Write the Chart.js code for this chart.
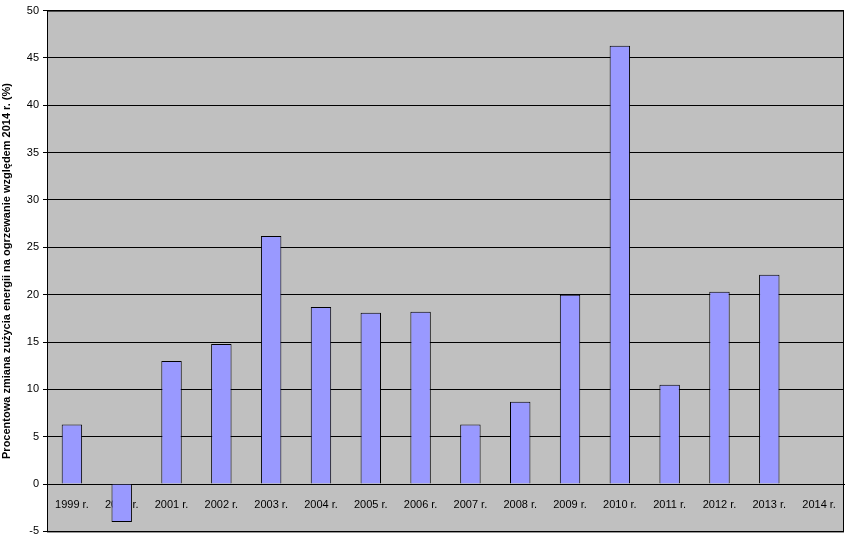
<!DOCTYPE html>
<html><head><meta charset="utf-8">
<script src="https://cdn.jsdelivr.net/npm/chart.js@4"></script>
<style>html,body{margin:0;padding:0;background:#fff}#w{width:847px;height:542px}</style>
</head><body><div id="w"><canvas id="c"></canvas></div>
<script>
const categories=["1999 r.","2000 r.","2001 r.","2002 r.","2003 r.","2004 r.","2005 r.","2006 r.","2007 r.","2008 r.","2009 r.","2010 r.","2011 r.","2012 r.","2013 r.","2014 r."];
const values=[6.3,-4.0,13.0,14.8,26.2,18.7,18.1,18.2,6.3,8.7,20.0,46.3,10.5,20.3,22.1,0];
const yTitle="Procentowa zmiana zużycia energii na ogrzewanie względem 2014 r. (%)";
const bg={id:'bg',beforeDraw(c){const a=c.chartArea,x=c.ctx;x.save();x.fillStyle='#c0c0c0';x.fillRect(a.left,a.top,a.right-a.left,a.bottom-a.top);x.restore();},
afterDraw(c){const a=c.chartArea,x=c.ctx;x.save();x.strokeStyle='#000';x.lineWidth=1;x.strokeRect(a.left+0.5,a.top+0.5,a.right-a.left-1,a.bottom-a.top);x.restore();}};
Chart.defaults.font.family="'Liberation Sans', Arial, sans-serif";
Chart.defaults.color='#000';
new Chart(document.getElementById('c'),{type:'bar',
data:{labels:categories,datasets:[{data:values,backgroundColor:'#9999ff',borderColor:'#000',borderWidth:1,categoryPercentage:1,barPercentage:0.41}]},
options:{responsive:true,maintainAspectRatio:false,animation:false,
layout:{padding:{top:4,right:3,bottom:-3,left:0}},
plugins:{legend:{display:false},tooltip:{enabled:false}},
scales:{
x:{position:{y:0},z:1,grid:{display:false},border:{color:'#000'},ticks:{font:{size:11},padding:6,maxRotation:0}},
y:{min:-5,max:50,ticks:{stepSize:5,font:{size:11},padding:4},grid:{color:'#000',tickLength:4},border:{color:'#000'},
title:{display:true,text:yTitle,font:{size:11,weight:'bold'},padding:{top:0,bottom:2}},
afterFit(s){s.width=47;}}
}},plugins:[bg]});
</script></body></html>
